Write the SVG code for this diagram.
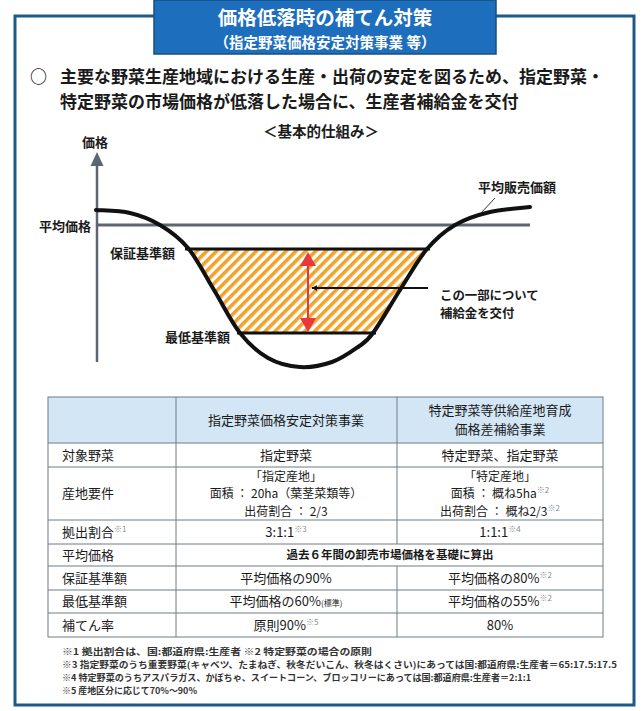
<svg xmlns="http://www.w3.org/2000/svg" width="642" height="711" viewBox="0 0 642 711">
<defs>
<style>
text{font-family:"Noto Sans CJK JP","Noto Sans",sans-serif;fill:#1a1a1a}
.b{font-weight:bold}
.t13{font-size:13px}
.t12{font-size:12px}
.lbl{font-size:13px;font-weight:bold}
.mid{text-anchor:middle}
.sup{font-size:8px;fill:#8a8a8a}
.note{font-size:8.8px;font-weight:bold;fill:#333}
.grid{stroke:#6f7c86;stroke-width:1;fill:none}
</style>
<pattern id="hatch" width="7" height="7" patternUnits="userSpaceOnUse" patternTransform="rotate(45)">
<rect width="7" height="7" fill="#fff"/>
<rect width="3.6" height="7" fill="#f0a22a"/>
</pattern>
<marker id="arrK" viewBox="0 0 10 10" refX="9" refY="5" markerWidth="6" markerHeight="6" orient="auto-start-reverse" markerUnits="userSpaceOnUse">
<path d="M0,0 L10,5 L0,10 Z" fill="#111"/>
</marker>
</defs>

<rect width="642" height="711" fill="#fff"/>
<g id="frame">
<rect x="15" y="16" width="619" height="689" fill="none" stroke="#1d5a8a" stroke-width="3"/>
</g>

<g id="title">
<rect x="154" y="0" width="342" height="54" fill="#1d6ebd" stroke="#1a4e7e" stroke-width="1.5"/>
<text x="325" y="25" class="b mid" style="font-size:19.5px;fill:#fff">価格低落時の補てん対策</text>
<text x="325" y="47.5" class="b mid" style="font-size:14.5px;fill:#fff">（指定野菜価格安定対策事業 等）</text>
</g>

<g id="lead">
<text x="30" y="83" class="b" style="font-size:17px">○</text>
<text x="60" y="83" class="b" style="font-size:17px">主要な野菜生産地域における生産・出荷の安定を図るため、指定野菜・</text>
<text x="60" y="108" class="b" style="font-size:17px">特定野菜の市場価格が低落した場合に、生産者補給金を交付</text>
</g>

<g id="chart">
<text x="263" y="137" class="b" style="font-size:14.5px">＜基本的仕組み＞</text>
<g id="axis">
<line x1="97" y1="163" x2="97" y2="362" stroke="#5b6670" stroke-width="2.5"/>
<polygon points="97,152 90.5,166 103.5,166" fill="#5b6670"/>
<text x="95" y="147" class="lbl mid">価格</text>
</g>
<g id="avg-line">
<line x1="97" y1="225" x2="530" y2="225" stroke="#5b6670" stroke-width="3"/>
<text x="39" y="231" class="lbl">平均価格</text>
</g>
<path id="hatch-area" d="M188,249 L427,249 C417.8,259.8 409,276 400,290 C391,304 380,323.5 373,333 L240,333 C231,321.7 222.7,304.2 214,290 C205.3,275.8 197,258.8 188,248 Z" fill="url(#hatch)"/>
<g id="guarantee">
<line x1="185" y1="249" x2="430" y2="249" stroke="#111" stroke-width="3"/>
<text x="110" y="258" class="lbl">保証基準額</text>
</g>
<g id="minimum">
<line x1="237" y1="333" x2="376" y2="333" stroke="#111" stroke-width="3"/>
<text x="165" y="342" class="lbl">最低基準額</text>
</g>
<g id="price-curve">
<path d="M96,210 C101.7,210.5 119.3,210.5 130,213 C140.7,215.5 150.3,219.2 160,225 C169.7,230.8 179,237.2 188,248 C197,258.8 205.3,275.8 214,290 C222.7,304.2 231,321.7 240,333 C249,344.3 258,352.3 268,358 C278,363.7 289.3,366.3 300,367 C310.7,367.7 322.3,365.3 332,362 C341.7,358.7 351.2,351.8 358,347 C364.8,342.2 366,342.5 373,333 C380,323.5 391,304 400,290 C409,276 417.8,259.8 427,249 C436.2,238.2 444.5,231.2 455,225 C465.5,218.8 477.5,215 490,212 C502.5,209 523.3,207.8 530,207" fill="none" stroke="#111" stroke-width="4" stroke-linecap="round"/>
<line x1="495" y1="198" x2="481" y2="213" stroke="#333" stroke-width="1"/>
<text x="478" y="192" class="lbl">平均販売価額</text>
</g>
<g id="note-label">
<text x="440" y="299.5" class="b" style="font-size:12.4px">この一部について</text>
<text x="440" y="318" class="b" style="font-size:12.4px">補給金を交付</text>
</g>
</g>

<g id="connectors">
<g id="red-arrow">
<line x1="308" y1="262" x2="308" y2="322" stroke="#e8383a" stroke-width="2"/>
<polygon points="308,252 300,266 316,266" fill="#e8383a"/>
<polygon points="308,332 300,318 316,318" fill="#e8383a"/>
</g>
<line id="pay-arrow" x1="428" y1="288" x2="312" y2="288" stroke="#111" stroke-width="2" marker-end="url(#arrK)"/>
</g>

<g id="table">
<rect x="48" y="397" width="555" height="46" fill="#d3e6f5"/>
<rect x="48" y="397" width="555" height="240" class="grid"/>
<line x1="48" y1="443" x2="603" y2="443" class="grid"/>
<line x1="48" y1="467" x2="603" y2="467" class="grid"/>
<line x1="48" y1="520" x2="603" y2="520" class="grid"/>
<line x1="48" y1="544" x2="603" y2="544" class="grid"/>
<line x1="48" y1="566" x2="603" y2="566" class="grid"/>
<line x1="48" y1="590" x2="603" y2="590" class="grid"/>
<line x1="48" y1="613" x2="603" y2="613" class="grid"/>
<line x1="176" y1="397" x2="176" y2="637" class="grid"/>
<line x1="397" y1="397" x2="397" y2="544" class="grid"/>
<line x1="397" y1="566" x2="397" y2="637" class="grid"/>

<text x="286" y="425" class="t13 mid">指定野菜価格安定対策事業</text>
<text x="500" y="415" class="t13 mid">特定野菜等供給産地育成</text>
<text x="500" y="434" class="t13 mid">価格差補給事業</text>

<text x="62" y="460" class="t13">対象野菜</text>
<text x="286" y="460" class="t13 mid">指定野菜</text>
<text x="500" y="460" class="t13 mid">特定野菜、指定野菜</text>

<text x="62" y="498" class="t13">産地要件</text>
<text x="286" y="480.5" class="t12 mid">「指定産地」</text>
<text x="286" y="498" class="t12 mid">面積 ： 20ha（葉茎菜類等）</text>
<text x="286" y="515.5" class="t12 mid">出荷割合 ： 2/3</text>
<text x="500" y="480.5" class="t12 mid">「特定産地」</text>
<text x="500" y="498" class="t12 mid">面積 ： 概ね5ha<tspan class="sup" dy="-5">※2</tspan></text>
<text x="500" y="515.5" class="t12 mid">出荷割合 ： 概ね2/3<tspan class="sup" dy="-5">※2</tspan></text>

<text x="62" y="537" class="t13">拠出割合<tspan class="sup" dy="-5">※1</tspan></text>
<text x="286" y="537" class="t13 mid">3:1:1<tspan class="sup" dy="-5">※3</tspan></text>
<text x="500" y="537" class="t13 mid">1:1:1<tspan class="sup" dy="-5">※4</tspan></text>

<text x="62" y="560" class="t13">平均価格</text>
<text x="390" y="559" class="b mid" style="font-size:11.5px">過去６年間の卸売市場価格を基礎に算出</text>

<text x="62" y="583" class="t13">保証基準額</text>
<text x="286" y="583" class="t13 mid">平均価格の90%</text>
<text x="500" y="583" class="t13 mid">平均価格の80%<tspan class="sup" dy="-5">※2</tspan></text>

<text x="62" y="606" class="t13">最低基準額</text>
<text x="286" y="606" class="t13 mid">平均価格の60%<tspan style="font-size:8px">(標準)</tspan></text>
<text x="500" y="606" class="t13 mid">平均価格の55%<tspan class="sup" dy="-5">※2</tspan></text>

<text x="62" y="630" class="t13">補てん率</text>
<text x="286" y="630" class="t13 mid">原則90%<tspan class="sup" dy="-5">※5</tspan></text>
<text x="500" y="630" class="t13 mid">80%</text>
</g>

<g id="notes">
<text x="62" y="655" class="note" textLength="310" lengthAdjust="spacingAndGlyphs">※1  拠出割合は、国:都道府県:生産者  ※2  特定野菜の場合の原則</text>
<text x="62" y="668" class="note" textLength="555" lengthAdjust="spacingAndGlyphs">※3  指定野菜のうち重要野菜(キャベツ、たまねぎ、秋冬だいこん、秋冬はくさい)にあっては国:都道府県:生産者＝65:17.5:17.5</text>
<text x="62" y="681" class="note" textLength="469" lengthAdjust="spacingAndGlyphs">※4  特定野菜のうちアスパラガス、かぼちゃ、スイートコーン、ブロッコリーにあっては国:都道府県:生産者＝2:1:1</text>
<text x="62" y="694" class="note" textLength="135" lengthAdjust="spacingAndGlyphs">※5  産地区分に応じて70%～90%</text>
</g>
</svg>
